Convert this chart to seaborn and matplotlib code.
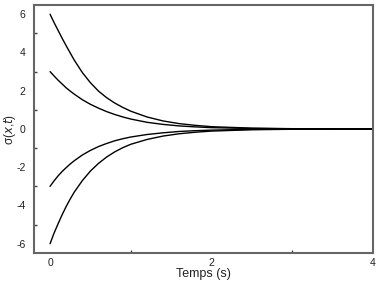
import numpy as np
import pandas as pd
import matplotlib
matplotlib.use("Agg")
import matplotlib.pyplot as plt
from matplotlib.ticker import MultipleLocator
import seaborn as sns

# ── data ─────────────────────────────────────────────────────
t = [0.0, 0.05, 0.1, 0.15, 0.2, 0.25, 0.3, 0.4, 0.5, 0.6, 0.7, 0.8, 0.9,
     1.0, 1.2, 1.4, 1.6, 1.8, 2.0, 2.5, 3.0, 4.0]
sigma_p6 = [6.0, 5.56, 5.15, 4.74, 4.35, 3.97, 3.6, 2.95, 2.42, 1.98, 1.64, 1.36, 1.13,
            0.93, 0.63, 0.42, 0.28, 0.19, 0.12, 0.045, 0.015, 0.0]
sigma_p3 = [3.0, 2.77, 2.55, 2.35, 2.15, 1.98, 1.82, 1.53, 1.29, 1.09, 0.91, 0.76, 0.63,
            0.52, 0.35, 0.24, 0.16, 0.11, 0.07, 0.025, 0.01, 0.0]
sigma_m3 = [-3.0, -2.71, -2.45, -2.22, -2.02, -1.83, -1.66, -1.36, -1.12, -0.92, -0.76, -0.62, -0.51,
            -0.42, -0.29, -0.2, -0.13, -0.09, -0.06, -0.02, -0.008, 0.0]
sigma_m6 = [-6.0, -5.44, -4.95, -4.48, -4.05, -3.66, -3.3, -2.7, -2.2, -1.8, -1.47, -1.2, -0.98,
            -0.8, -0.55, -0.37, -0.25, -0.17, -0.11, -0.04, -0.015, 0.0]

curves = {"+6": sigma_p6, "+3": sigma_p3, "-3": sigma_m3, "-6": sigma_m6}
df = pd.concat(
    [pd.DataFrame({"t": t, "sigma": v, "x0": k}) for k, v in curves.items()],
    ignore_index=True,
)

sns.set_style("white")
plt.rcParams["font.family"] = ["Liberation Sans", "DejaVu Sans"]
plt.rcParams["axes.unicode_minus"] = False

fig = plt.figure(figsize=(3.77, 2.81), dpi=100)
ax = fig.add_axes([0.090, 0.100, 0.899, 0.882])

sns.lineplot(data=df, x="t", y="sigma", units="x0", estimator=None,
             color="black", lw=1.0, ax=ax)

ax.set_xlim(-0.2, 4.0)
ax.set_ylim(-6.48, 6.48)
ax.set_xticks([0, 2, 4])
ax.set_yticks([-6, -4, -2, 0, 2, 4, 6])
ax.xaxis.set_minor_locator(MultipleLocator(1))
ax.yaxis.set_minor_locator(MultipleLocator(1))
ax.tick_params(which="major", length=0, labelsize=7.5, pad=6, labelcolor="#222222")
ax.tick_params(axis="x", which="major", pad=4)
ax.tick_params(which="minor", direction="in", length=2.5, width=1.0,
               color="#444444", bottom=True, left=True)

for s in ax.spines.values():
    s.set_color("#666666")
    s.set_linewidth(1.5)

ax.set_xlabel("Temps (s)", fontsize=9, labelpad=0, color="#222222")
ax.set_ylabel(r"σ($x$,$t$)", fontsize=8.5, color="#222222")
ax.yaxis.set_label_coords(-0.048, 0.5)

fig.savefig("out.png", dpi=100)
